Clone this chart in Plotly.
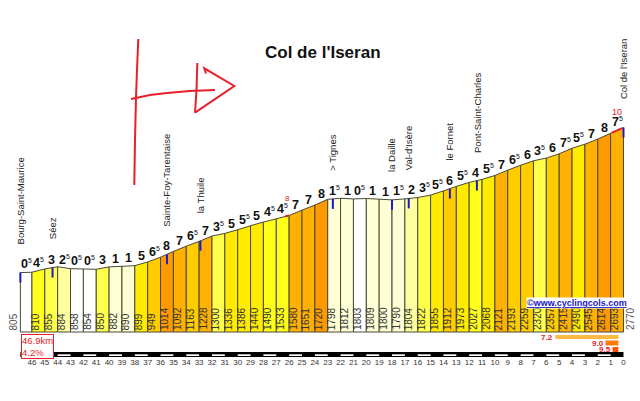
import numpy as np
import plotly.graph_objects as go

# ---------------- data ----------------
km_marks = [46.9, 46, 45, 44, 43, 42, 41, 40, 39, 38, 37, 36, 35, 34, 33, 32, 31, 30, 29, 28, 27,
            26, 25, 24, 23, 22, 21, 20, 19, 18, 17, 16, 15, 14, 13, 12, 11, 10, 9, 8, 7, 6, 5, 4, 3, 2, 1, 0]
elev = [805, 810, 855, 884, 858, 854, 850, 882, 890, 899, 949, 1014, 1092, 1163, 1228, 1300, 1336, 1386,
        1440, 1490, 1533, 1580, 1651, 1720, 1798, 1812, 1803, 1809, 1800, 1790, 1804, 1822, 1855, 1912,
        1973, 2027, 2068, 2121, 2193, 2259, 2320, 2357, 2415, 2490, 2545, 2614, 2693, 2770]
grad = [0.5, 4.5, 3, 2.5, 0.5, 0.5, 3, 1, 1, 5, 6.5, 8, 7, 6.5, 7, 3.5, 5, 5.5, 5, 4.5, 4.5, 7, 7, 8,
        1.5, 1, 0.5, 1, 1, 1.5, 2, 3.5, 5.5, 6, 5.5, 4, 5.5, 7, 6.5, 6, 3.5, 6, 7.5, 5.5, 7, 8, 7.5]

place_names = ["Bourg-Saint-Maurice", "Séez", "Sainte-Foy-Tarentaise", "la Thuile", "> Tignes",
               "la Daille", "Val-d'Isère", "le Fornet", "Pont-Saint-Charles", "Col de l'Iseran"]
place_km = [46.9, 44.4, 35.5, 32.9, 22.6, 18.0, 16.7, 13.5, 11.4, 0.0]

max_grad = [8, 10]
max_from = [26.3, 0.9]
max_to = [26.0, 0.1]

steep_grad = [7.2, 9.0, 9.5]
steep_from = [5.3, 1.4, 0.85]
steep_to = [0.4, 0.4, 0.4]
steep_colors = ["#ffb940", "#ff7a00", "#ff5000"]

tick_km = list(range(46, -1, -1))

title = "Col de l'Iseran"
site = "©www.cyclingcols.com"

# ---------------- geometry helpers (pixel -> data) ----------------
def X(px):
    return (623.5 - px) / 12.86

def Y(py):
    return (332 - py) / 0.0738

def grad_color(g):
    if g < 1: return "#ffffff"
    if g < 2: return "#ffffd6"
    if g < 3: return "#ffffa0"
    if g < 4: return "#ffff4c"
    if g < 5: return "#ffff1a"
    if g < 6: return "#ffea00"
    if g < 7: return "#ffcc00"
    if g < 8: return "#ffb000"
    if g < 9: return "#ff9900"
    return "#ff7000"

def prof(k):
    return float(np.interp(k, km_marks[::-1], elev[::-1]))

fig = go.Figure()
ann = []
shapes = []

# segments
for i in range(len(grad)):
    k0, k1 = km_marks[i], km_marks[i + 1]
    e0, e1 = elev[i], elev[i + 1]
    fig.add_trace(go.Scatter(x=[k0, k0, k1, k1, k0], y=[0, e0, e1, 0, 0], mode="lines",
                             fill="toself", fillcolor=grad_color(grad[i]),
                             line=dict(color="#4a4a36", width=1), hoverinfo="skip", showlegend=False))
    g = grad[i]
    if g % 1:
        txt = f"<b>{int(g)}</b><sup><span style='font-size:7px'>5</span></sup>"
    else:
        txt = f"<b>{int(g)}</b>"
    ann.append(dict(x=(k0 + k1) / 2, y=(e0 + e1) / 2, text=txt, showarrow=False, yanchor="middle",
                    yshift=8, font=dict(family="Liberation Sans", size=12.5, color="#111")))
    if i > 0:
        ann.append(dict(x=k0 - 0.31, y=0, text=str(e0), showarrow=False, yanchor="bottom", yshift=0,
                        textangle=-90, font=dict(family="Liberation Sans", size=10, color="#333")))

# start / end elevations
ann.append(dict(x=km_marks[0] + 0.5, y=0, text=str(elev[0]), showarrow=False, yanchor="bottom",
                textangle=-90, font=dict(family="Liberation Sans", size=10, color="#555")))
ann.append(dict(x=km_marks[-1] - 0.55, y=0, text=str(elev[-1]), showarrow=False, yanchor="bottom",
                textangle=-90, font=dict(family="Liberation Sans", size=10, color="#555")))

# places
mx, my = [], []
for name, k in zip(place_names, place_km):
    e = prof(k)
    mx += [k, k, None]
    my += [e, e - 135, None]
    ann.append(dict(x=k, y=e, text=name, showarrow=False, yanchor="bottom", yshift=26, textangle=-90,
                    font=dict(family="Liberation Sans", size=9.5, color="#222")))
fig.add_trace(go.Scatter(x=mx, y=my, mode="lines", line=dict(color="#1a1acc", width=2),
                         hoverinfo="skip", showlegend=False))

# max gradient marks
for g, a, b in zip(max_grad, max_from, max_to):
    xs = list(np.linspace(a, b, 5))
    fig.add_trace(go.Scatter(x=xs, y=[prof(v) for v in xs], mode="lines",
                             line=dict(color="#e8202a", width=2), hoverinfo="skip", showlegend=False))
    c = (a + b) / 2
    ann.append(dict(x=c, y=prof(c), text=str(g), showarrow=False, yanchor="middle",
                    yshift=17 if g < 10 else 18,
                    font=dict(family="Liberation Sans", size=8 if g < 10 else 9, color="#e8202a")))

# summary box
dist = km_marks[0] - km_marks[-1]
avg = (elev[-1] - elev[0]) / dist / 10
ann.append(dict(x=X(20.5), y=Y(334), xanchor="left", yanchor="top", align="left",
                text=f"{dist:.1f}km<br>{avg:.1f}%", showarrow=False, bordercolor="#e8202a",
                borderwidth=1, borderpad=0, bgcolor="white",
                font=dict(family="Liberation Sans", size=9.5, color="#e8202a")))

# steepest sections
rows = [(335, 339), (340.5, 345.5), (347, 352)]
for (g, a, b, col), (t, bt) in zip(zip(steep_grad, steep_from, steep_to, steep_colors), rows):
    shapes.append(dict(type="rect", xref="x", yref="y", x0=a, x1=b, y0=Y(t), y1=Y(bt),
                       fillcolor=col, line=dict(width=0), layer="above"))
    ann.append(dict(x=a, y=Y((t + bt) / 2), text=f"<b>{g:.1f}</b>", showarrow=False, xanchor="right",
                    xshift=-1, borderpad=0,
                    font=dict(family="Liberation Sans", size=8, color="#e8202a")))

# distance band
shapes.append(dict(type="rect", xref="x", yref="y", x0=km_marks[0], x1=km_marks[-1], y0=Y(352),
                   y1=Y(357), fillcolor="black", line=dict(width=0)))
for k in tick_km:
    if k % 2 == 0 and k > 0:
        shapes.append(dict(type="rect", xref="x", yref="y", x0=k, x1=k - 1, y0=Y(354.3), y1=Y(356),
                           fillcolor="white", line=dict(width=0)))

# red hand-drawn arrow
def path(pts):
    return "M " + " L ".join(f"{X(px):.4f},{Y(py):.2f}" for px, py in pts)

red = dict(color="#e8202a", width=2)
for pts in [[(138.3, 39), (137, 70), (136, 98), (135, 140), (134.3, 185)],
            [(131, 99), (150, 95), (167, 93), (190, 91), (215, 90)],
            [(197.3, 63), (196.5, 90), (195, 112.7)],
            [(195, 112.7), (234.3, 86), (204.3, 68.3), (206, 73.5)]]:
    shapes.append(dict(type="path", xref="x", yref="y", path=path(pts), line=red))

# title & site
ann.append(dict(x=X(322.5), y=Y(52.5), text=f"<b>{title}</b>", showarrow=False,
                font=dict(family="Liberation Sans", size=17, color="#111")))
ann.append(dict(x=X(577), y=Y(303), text=f"<b><u>{site}</u></b>", showarrow=False, bgcolor="white",
                borderpad=0, font=dict(family="Liberation Sans", size=9, color="#2020c8")))

fig.update_layout(
    width=640, height=401, margin=dict(l=0, r=0, t=0, b=0),
    paper_bgcolor="white", plot_bgcolor="white",
    xaxis=dict(range=[X(0), X(640)], tickvals=tick_km, ticktext=[str(k) for k in tick_km],
               showgrid=False, zeroline=False, showline=False, ticks="", anchor="free",
               position=1 - 356 / 401, tickfont=dict(family="Liberation Sans", size=8, color="#333")),
    yaxis=dict(range=[Y(401), Y(0)], visible=False),
    annotations=ann, shapes=shapes, showlegend=False,
)
fig.write_html("out.html")
